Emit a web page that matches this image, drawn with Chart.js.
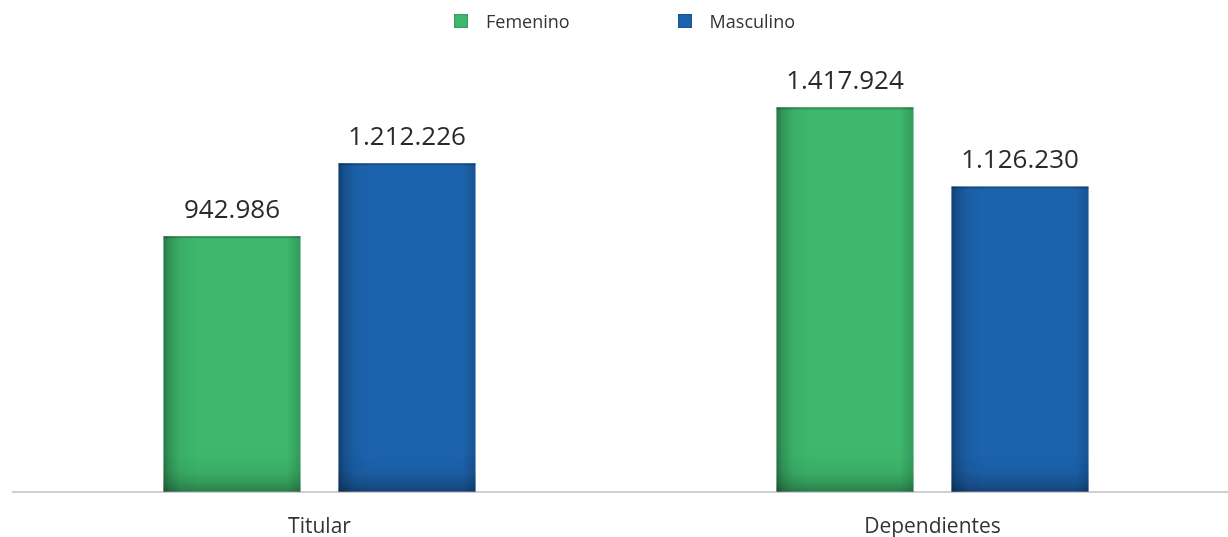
<!DOCTYPE html>
<html lang="es">
<head>
<meta charset="utf-8">
<script src="https://cdn.jsdelivr.net/npm/chart.js@4/dist/chart.umd.min.js"></script>
<style>
  html, body { margin: 0; padding: 0; background: #fff; }
  #wrap { position: relative; width: 1228px; height: 537px; overflow: hidden; }
  #legend {
    position: absolute; top: 9px; left: 9px; width: 1231px;
    display: flex; justify-content: center; gap: 108px;
    font-family: "Open Sans", sans-serif; font-size: 18px; color: #333;
  }
  #legend .item { display: flex; align-items: center; }
  #legend .box { width: 14px; height: 14px; margin-right: 18px; box-shadow: inset 0 0 2px rgba(0,0,0,0.45); }
  canvas { display: block; }
</style>
</head>
<body>
<div id="wrap">
  <div id="legend"></div>
  <canvas id="grafico" width="1239" height="564"></canvas>
</div>
<script>
const categorias = ["Titular", "Dependientes"];
const femenino = [942986, 1417924];
const masculino = [1212226, 1126230];
const series = ["Femenino", "Masculino"];
const colores = ["#3db86c", "#1c63ae"];

function formatoMiles(n) {
    return String(n).replace(/\B(?=(\d{3})+(?!\d))/g, ".");
}

// sombreado de las barras: bordes laterales y base más oscuros
const sombreado = {
    id: "sombreado",
    afterDatasetDraw(chart, args) {
        const ctx = chart.ctx;
        args.meta.data.forEach(bar => {
            const left = bar.x - bar.width / 2;
            const w = bar.width;
            const top = bar.y;
            const h = bar.base - bar.y;

            const gx = ctx.createLinearGradient(left, 0, left + w, 0);
            gx.addColorStop(0, "rgba(0,0,0,0.36)");
            gx.addColorStop(0.04, "rgba(0,0,0,0.2)");
            gx.addColorStop(0.12, "rgba(0,0,0,0.05)");
            gx.addColorStop(0.25, "rgba(0,0,0,0)");
            gx.addColorStop(0.9, "rgba(0,0,0,0)");
            gx.addColorStop(1, "rgba(0,0,0,0.16)");
            ctx.fillStyle = gx;
            ctx.fillRect(left, top, w, h);

            const alto = 40;
            const gy = ctx.createLinearGradient(0, bar.base - alto, 0, bar.base);
            gy.addColorStop(0, "rgba(0,0,0,0)");
            gy.addColorStop(0.5, "rgba(0,0,0,0.06)");
            gy.addColorStop(0.8, "rgba(0,0,0,0.18)");
            gy.addColorStop(1, "rgba(0,0,0,0.32)");
            ctx.fillStyle = gy;
            ctx.fillRect(left, bar.base - alto, w, alto);

            ctx.fillStyle = "rgba(0,0,0,0.22)";
            ctx.fillRect(left, top, w, 2);
        });
    }
};

// cifras encima de cada barra
const etiquetas = {
    id: "etiquetas",
    afterDatasetsDraw(chart) {
        const ctx = chart.ctx;
        ctx.save();
        ctx.font = "26px 'Open Sans', sans-serif";
        ctx.fillStyle = "#2a2a2a";
        ctx.textAlign = "center";
        ctx.textBaseline = "alphabetic";
        chart.data.datasets.forEach((ds, i) => {
            chart.getDatasetMeta(i).data.forEach((bar, j) => {
                ctx.fillText(formatoMiles(ds.data[j]), bar.x, bar.y - 18);
            });
        });
        ctx.restore();
    }
};

const grafico = new Chart(document.getElementById("grafico"), {
    type: "bar",
    data: {
        labels: categorias,
        datasets: [
            { label: series[0], data: femenino, backgroundColor: colores[0] },
            { label: series[1], data: masculino, backgroundColor: colores[1] }
        ]
    },
    options: {
        responsive: false,
        animation: false,
        barPercentage: 0.783,
        categoryPercentage: 0.571,
        layout: { padding: { top: 58, left: 13, right: 0, bottom: 1 } },
        plugins: {
            legend: { display: false },
            tooltip: { enabled: false }
        },
        scales: {
            x: {
                grid: { display: false, drawTicks: false },
                border: { color: "#cfcfcf", width: 2 },
                ticks: {
                    padding: 23,
                    color: "#333",
                    font: { family: "'Open Sans', sans-serif", size: 21 }
                }
            },
            y: {
                display: false,
                min: 0,
                max: 1600000
            }
        }
    },
    plugins: [sombreado, etiquetas]
});

const legendDiv = document.getElementById("legend");
grafico.data.datasets.forEach(ds => {
    const item = document.createElement("div");
    item.className = "item";
    const box = document.createElement("span");
    box.className = "box";
    box.style.background = ds.backgroundColor;
    const txt = document.createElement("span");
    txt.textContent = ds.label;
    item.appendChild(box);
    item.appendChild(txt);
    legendDiv.appendChild(item);
});
</script>
</body>
</html>
